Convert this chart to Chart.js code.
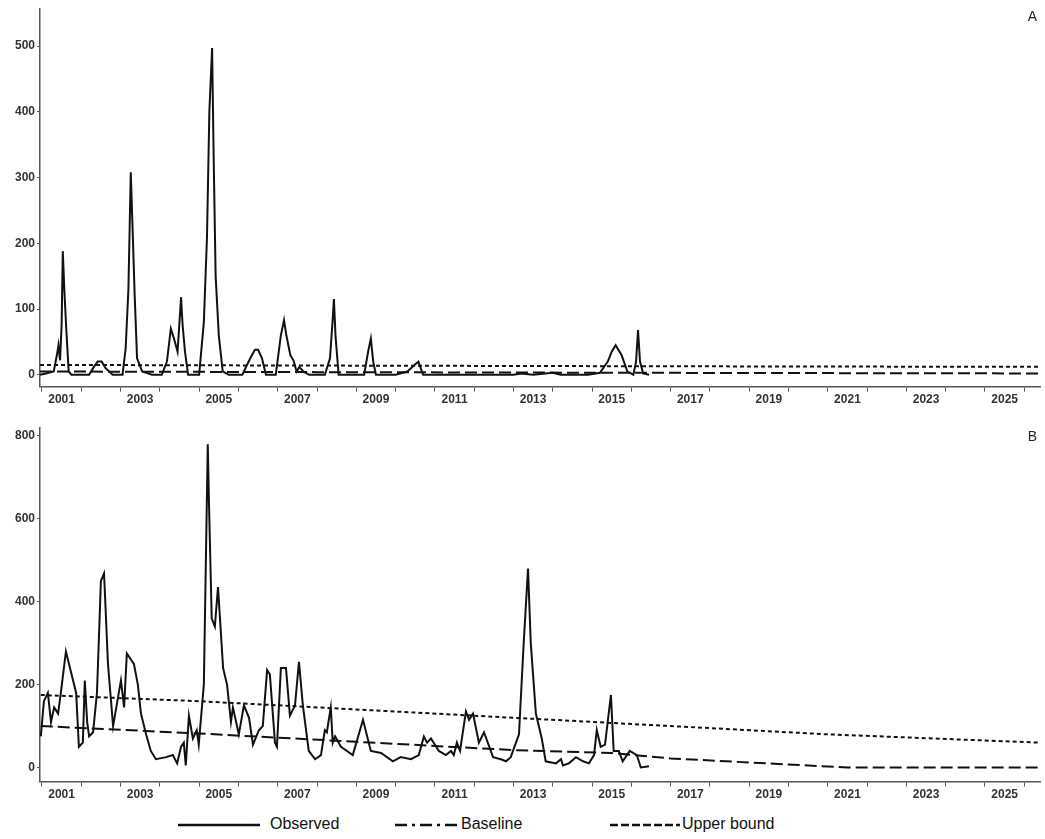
<!DOCTYPE html>
<html>
<head>
<meta charset="utf-8">
<script src="https://cdn.jsdelivr.net/npm/chart.js@4/dist/chart.umd.min.js"></script>
<style>
  body { margin: 0; background: #fff; font-family: "Liberation Sans", Arial, sans-serif; }
  .wrap { position: relative; width: 1045px; height: 839px; }
  canvas { position: absolute; left: 0; }
  .tag { position: absolute; right: 8px; font-size: 14px; color: #222; }
  .legend { position: absolute; top: 812px; left: 0; width: 1045px; height: 26px; font-size: 16px; color: #111; }
  .legend span { position: absolute; top: 3px; }
</style>
</head>
<body>
<div class="wrap">
  <canvas id="chartA" width="1045" height="410" style="top:0"></canvas>
  <canvas id="chartB" width="1045" height="395" style="top:410px"></canvas>
  <div class="tag" style="top:8px">A</div>
  <div class="tag" style="top:428px">B</div>
  <div class="legend">
    <svg width="1045" height="26" style="position:absolute;left:0;top:0">
      <line x1="178" y1="13" x2="260" y2="13" stroke="#111" stroke-width="2.5"/>
      <line x1="395" y1="13" x2="460" y2="13" stroke="#111" stroke-width="2.5" stroke-dasharray="12,5,3,5"/>
      <line x1="610" y1="13" x2="680" y2="13" stroke="#111" stroke-width="2.5" stroke-dasharray="8,3"/>
    </svg>
    <span style="left:270px">Observed</span>
    <span style="left:461px">Baseline</span>
    <span style="left:682px">Upper bound</span>
  </div>
</div>
<script>
// Panel A
var obsYearsA = [2000.95,2001.1,2001.3,2001.38,2001.42,2001.46,2001.5,2001.53,2001.57,2001.62,2001.68,2001.75,2001.9,
  2002.2,2002.32,2002.42,2002.52,2002.62,2002.8,2003.05,2003.13,2003.2,2003.26,2003.31,2003.36,2003.42,2003.55,2003.8,
  2004.05,2004.18,2004.28,2004.36,2004.45,2004.5,2004.54,2004.58,2004.64,2004.72,2005.0,2005.12,2005.2,2005.26,2005.33,
  2005.37,2005.42,2005.5,2005.6,2005.75,2005.9,2006.1,2006.3,2006.42,2006.5,2006.6,2006.7,2006.95,2007.08,2007.16,
  2007.22,2007.32,2007.4,2007.48,2007.55,2007.65,2007.8,2008.2,2008.33,2008.4,2008.43,2008.47,2008.55,2008.7,2009.2,
  2009.3,2009.37,2009.43,2009.5,2010.0,2010.3,2010.48,2010.58,2010.7,2011.5,2012.5,2013.0,2013.2,2013.5,2014.0,2014.2,
  2014.4,2014.9,2015.2,2015.4,2015.5,2015.6,2015.75,2015.9,2016.05,2016.12,2016.17,2016.22,2016.3,2016.45];
var obsValsA = [0,2,5,30,45,22,75,188,128,68,5,0,0,
  0,12,20,20,10,0,0,40,130,308,215,120,25,5,0,
  0,20,70,55,35,80,118,75,35,0,0,80,210,400,497,
  330,150,60,5,0,0,0,25,38,38,25,0,0,60,83,
  60,30,22,5,12,5,0,0,25,85,115,60,0,0,0,
  35,55,20,0,0,5,15,20,0,0,0,0,2,0,3,
  0,0,0,3,20,35,45,30,5,0,20,68,20,2,0];
var baseYearsA = [2000.95, 2008, 2016, 2026.4];
var baseValsA = [5, 4, 3, 2];
var upperYearsA = [2000.95, 2008, 2016, 2026.4];
var upperValsA = [15, 14, 13, 12];

// Panel B
var obsYearsB = [2000.97,2001.05,2001.15,2001.23,2001.31,2001.41,2001.48,2001.61,2001.74,2001.87,2001.94,2002.04,2002.09,
  2002.15,2002.20,2002.30,2002.40,2002.50,2002.58,2002.68,2002.81,2003.01,2003.09,2003.16,2003.34,2003.44,2003.52,2003.65,
  2003.77,2003.90,2004.16,2004.33,2004.44,2004.54,2004.61,2004.66,2004.74,2004.84,2004.94,2004.99,2005.12,2005.22,2005.25,
  2005.32,2005.40,2005.48,2005.61,2005.71,2005.81,2005.86,2006.01,2006.14,2006.27,2006.37,2006.52,2006.62,2006.73,2006.80,
  2006.93,2006.98,2007.08,2007.21,2007.31,2007.44,2007.54,2007.64,2007.79,2007.95,2008.10,2008.20,2008.25,2008.35,2008.40,
  2008.46,2008.61,2008.91,2009.17,2009.37,2009.63,2009.93,2010.13,2010.39,2010.59,2010.72,2010.80,2010.90,2011.10,2011.28,
  2011.41,2011.48,2011.56,2011.64,2011.79,2011.87,2011.97,2012.12,2012.25,2012.48,2012.68,2012.81,2012.93,2013.14,2013.26,
  2013.37,2013.44,2013.57,2013.72,2013.82,2014.08,2014.21,2014.26,2014.41,2014.59,2014.77,2014.92,2015.05,2015.12,2015.22,
  2015.33,2015.48,2015.55,2015.68,2015.78,2015.96,2016.14,2016.24,2016.45];
var obsValsB = [75,160,180,110,145,130,180,280,230,180,50,60,210,
  110,75,85,180,450,468,250,100,210,145,275,250,200,130,80,
  40,20,25,30,10,50,60,5,125,70,90,55,200,780,640,
  360,340,435,240,200,110,145,80,150,120,55,90,100,235,225,
  60,50,240,240,125,150,255,150,40,20,30,90,85,145,60,
  75,50,30,115,40,35,15,25,20,30,75,60,70,40,30,
  40,30,60,40,135,115,130,60,85,25,20,15,25,80,300,
  480,300,130,70,15,10,20,5,10,25,15,10,30,90,50,
  55,175,40,40,15,40,30,0,3];
var baseYearsB = [2000.97, 2005, 2009, 2013, 2015.5, 2017, 2019, 2021.5, 2026.4];
var baseValsB = [100, 82, 62, 42, 35, 22, 12, 0, 0];
var upperYearsB = [2000.97, 2005, 2009, 2013, 2017, 2021, 2026.4];
var upperValsB = [175, 160, 140, 120, 100, 80, 60];

function pts(xs, ys) {
  return xs.map(function (x, i) { return { x: x, y: ys[i] }; });
}

function makeChart(id, obsX, obsY, baseX, baseY, upX, upY, yMin, yMax, yStep, top, bottomPad) {
  var ink = '#333';
  return new Chart(document.getElementById(id), {
    type: 'line',
    data: {
      datasets: [
        { data: pts(obsX, obsY), borderColor: '#111', borderWidth: 2, pointRadius: 0, tension: 0 },
        { data: pts(baseX, baseY), borderColor: '#111', borderWidth: 2, borderDash: [12, 5], pointRadius: 0 },
        { data: pts(upX, upY), borderColor: '#111', borderWidth: 2, borderDash: [4, 3], pointRadius: 0 }
      ]
    },
    options: {
      responsive: false,
      animation: false,
      layout: { padding: { top: top, right: 5, bottom: bottomPad, left: 0 } },
      plugins: { legend: { display: false }, tooltip: { enabled: false } },
      scales: {
        x: {
          type: 'linear', min: 2000.95, max: 2026.4,
          afterBuildTicks: function (s) {
            var t = [];
            for (var v = 2001; v <= 2026; v += 0.5) t.push({ value: v });
            s.ticks = t;
          },
          ticks: {
            autoSkip: false, maxRotation: 0, color: ink, padding: 1,
            font: { family: 'Liberation Sans', size: 12, weight: 'bold' },
            callback: function (v) {
              var f = Math.floor(v);
              return (v - f === 0.5 && f % 2 === 1) ? String(f) : '';
            }
          },
          grid: {
            drawOnChartArea: false, tickLength: 5,
            tickColor: function (c) { return Number.isInteger(c.tick.value) ? '#555' : 'rgba(0,0,0,0)'; }
          },
          border: { color: '#555', width: 1.5 }
        },
        y: {
          min: yMin, max: yMax,
          afterBuildTicks: function (s) {
            var t = [];
            for (var v = 0; v <= yMax; v += yStep) t.push({ value: v });
            s.ticks = t;
          },
          afterFit: function (s) { s.width = 40; },
          ticks: { color: ink, padding: 2, font: { family: 'Liberation Sans', size: 12, weight: 'bold' } },
          grid: { drawOnChartArea: false, tickLength: 3, tickColor: '#555' },
          border: { color: '#555', width: 1.5 }
        }
      }
    }
  });
}

makeChart('chartA', obsYearsA, obsValsA, baseYearsA, baseValsA, upperYearsA, upperValsA, -18, 556, 100, 8, 2);
makeChart('chartB', obsYearsB, obsValsB, baseYearsB, baseValsB, upperYearsB, upperValsB, -34, 819, 200, 18, 2);
</script>
</body>
</html>
